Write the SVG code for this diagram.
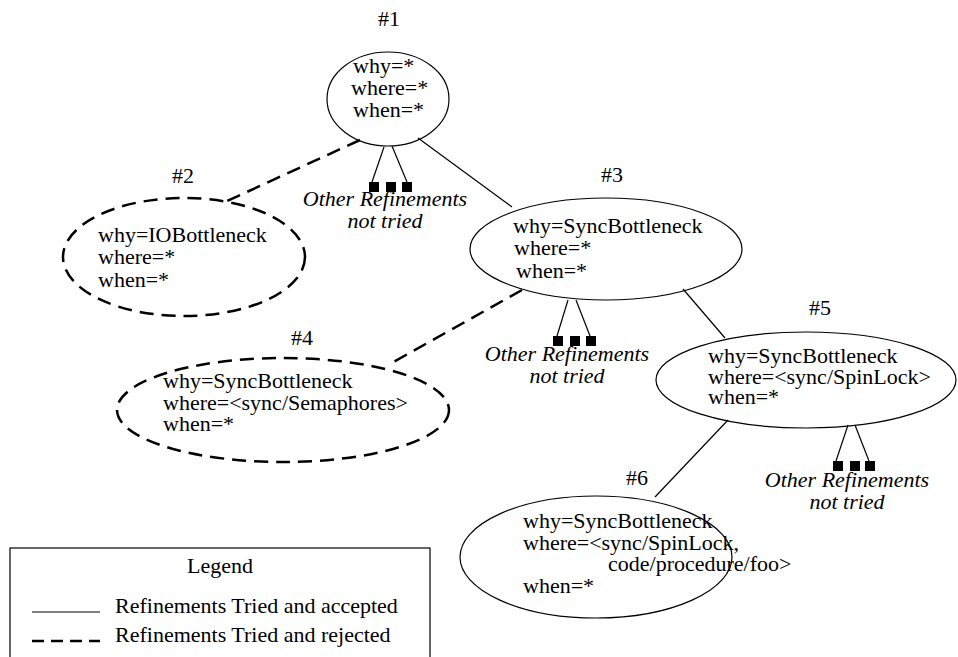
<svg xmlns="http://www.w3.org/2000/svg" width="958" height="657" viewBox="0 0 958 657">
<style>
text{font-family:"Liberation Serif","Times New Roman",serif;font-size:22px;fill:#000}
.it{font-style:italic}
.c{text-anchor:middle}
.acc{fill:none;stroke:#000;stroke-width:1.2}
.rej{fill:none;stroke:#000;stroke-width:2.5;stroke-dasharray:14 8}
.sq{fill:#000}
</style>
<rect width="958" height="657" fill="#fff"/>
<g id="connectors">
<line class="rej" x1="360" y1="140" x2="225" y2="202"/>
<line class="acc" x1="418" y1="138" x2="512" y2="207"/>
<line class="rej" x1="522" y1="290" x2="388" y2="365"/>
<line class="acc" x1="683" y1="289" x2="725" y2="338"/>
<line class="acc" x1="728" y1="420" x2="655" y2="497"/>
<line class="acc" x1="384" y1="147" x2="372" y2="182"/>
<line class="acc" x1="392" y1="146" x2="407" y2="182"/>
<line class="acc" x1="568" y1="300" x2="557" y2="336"/>
<line class="acc" x1="576" y1="300" x2="590" y2="336"/>
<line class="acc" x1="848" y1="425" x2="836" y2="461"/>
<line class="acc" x1="855" y1="425" x2="869" y2="461"/>
</g>
<g id="other1">
<rect class="sq" x="369" y="182" width="10" height="10"/>
<rect class="sq" x="386" y="182" width="10" height="10"/>
<rect class="sq" x="402" y="182" width="10" height="10"/>
<text class="it c" x="385" y="206">Other Refinements<tspan x="385" y="228">not tried</tspan></text>
</g>
<g id="other3">
<rect class="sq" x="553" y="336" width="10" height="10"/>
<rect class="sq" x="570" y="336" width="10" height="10"/>
<rect class="sq" x="586" y="336" width="10" height="10"/>
<text class="it c" x="567" y="361">Other Refinements<tspan x="567" y="383">not tried</tspan></text>
</g>
<g id="other5">
<rect class="sq" x="833" y="461" width="10" height="10"/>
<rect class="sq" x="850" y="461" width="10" height="10"/>
<rect class="sq" x="865" y="461" width="10" height="10"/>
<text class="it c" x="847" y="487">Other Refinements<tspan x="847" y="509">not tried</tspan></text>
</g>
<g id="node1">
<text class="c" x="389" y="26">#1</text>
<ellipse class="acc" cx="388" cy="99" rx="61" ry="47"/>
<text x="353" y="73">why=*<tspan x="351" y="95">where=*</tspan><tspan x="353" y="117">when=*</tspan></text>
</g>
<g id="node2">
<text class="c" x="183" y="183">#2</text>
<ellipse class="rej" cx="184" cy="257" rx="121" ry="59"/>
<text x="98" y="242">why=IOBottleneck<tspan x="98" y="264">where=*</tspan><tspan x="98" y="287">when=*</tspan></text>
</g>
<g id="node3">
<text class="c" x="612" y="182">#3</text>
<ellipse class="acc" cx="606" cy="249" rx="136" ry="51"/>
<text x="513" y="233">why=SyncBottleneck<tspan x="514" y="255">where=*</tspan><tspan x="516" y="278">when=*</tspan></text>
</g>
<g id="node4">
<text class="c" x="302" y="345">#4</text>
<ellipse class="rej" cx="283" cy="410" rx="166" ry="52"/>
<text x="163" y="388">why=SyncBottleneck<tspan x="163" y="410">where=&lt;sync/Semaphores&gt;</tspan><tspan x="163" y="431">when=*</tspan></text>
</g>
<g id="node5">
<text class="c" x="820" y="315">#5</text>
<ellipse class="acc" cx="806" cy="380" rx="150" ry="48"/>
<text x="708" y="363">why=SyncBottleneck<tspan x="708" y="384">where=&lt;sync/SpinLock&gt;</tspan><tspan x="708" y="404">when=*</tspan></text>
</g>
<g id="node6">
<text class="c" x="637" y="485">#6</text>
<ellipse class="acc" cx="596" cy="557" rx="136" ry="61"/>
<text x="523" y="528">why=SyncBottleneck<tspan x="523" y="550">where=&lt;sync/SpinLock,</tspan><tspan x="608" y="571">code/procedure/foo&gt;</tspan><tspan x="523" y="593">when=*</tspan></text>
</g>
<g id="legend">
<rect x="10" y="548" width="420" height="120" fill="none" stroke="#000" stroke-width="1.2"/>
<text class="c" x="220" y="573">Legend</text>
<line class="acc" x1="32" y1="612" x2="100" y2="612"/>
<text x="115" y="613">Refinements Tried and accepted</text>
<line x1="32" y1="641" x2="100" y2="641" stroke="#000" stroke-width="2.5" stroke-dasharray="12 7"/>
<text x="115" y="642">Refinements Tried and rejected</text>
</g>
</svg>
